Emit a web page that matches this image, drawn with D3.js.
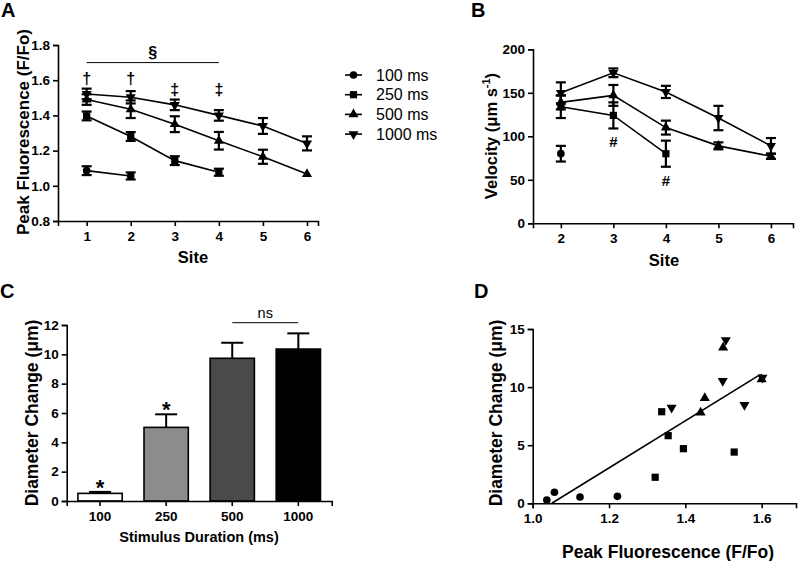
<!DOCTYPE html>
<html>
<head>
<meta charset="utf-8">
<script src="https://cdn.jsdelivr.net/npm/d3@7"></script>
<style>
  body { margin: 0; background: #fff; }
  svg { font-family: "Liberation Sans", Arial, sans-serif; }
</style>
</head>
<body>
<div id="chart"></div>
<script>
// ---- data ----
const durations = ["100 ms", "250 ms", "500 ms", "1000 ms"];
const symbolsBy = ["circle", "square", "up", "down"];

// panel A: peak fluorescence by site
const sitesA = [1, 2, 3, 4, 5, 6];
const fluo100 = [1.086, 1.056, null, null, null, null];
const fluo100err = [0.025, 0.02, null, null, null, null];
const fluo250 = [1.397, 1.28, 1.143, 1.077, null, null];
const fluo250err = [0.025, 0.025, 0.025, 0.02, null, null];
const fluo500 = [1.49, 1.435, 1.35, 1.256, 1.165, 1.067];
const fluo500err = [0.03, 0.05, 0.045, 0.05, 0.04, 0];
const fluo1000 = [1.522, 1.503, 1.46, 1.40, 1.34, 1.241];
const fluo1000err = [0.03, 0.035, 0.03, 0.03, 0.045, 0.04];
const annotA = [["†", 1], ["†", 2], ["‡", 3], ["‡", 4]];

// panel B: velocity by site
const sitesB = [2, 3, 4, 5, 6];
const vel100 = [80, null, null, null, null];
const vel100err = [9, null, null, null, null];
const vel250 = [134, 124, 80, null, null];
const vel250err = [13, 15, 15, null, null];
const vel500 = [139, 147, 110, 89, 77];
const vel500err = [8, 12, 8, 4, 3];
const vel1000 = [150, 173, 151, 121, 89];
const vel1000err = [12, 5, 7, 14, 9];
const annotB = [["#", 3, 124, 15], ["#", 4, 80, 15]];

// panel C: diameter change by stimulus duration
const stimLabels = ["100", "250", "500", "1000"];
const diamMean = [0.52, 5.02, 9.73, 10.36];
const diamErr = [0.1, 0.89, 1.06, 1.07];
const barFills = ["#ffffff", "#8c8c8c", "#4a4a4a", "#000000"];
const starBars = ["100", "250"];

// panel D: diameter change vs peak fluorescence
const scatX100 = [1.037, 1.057, 1.124, 1.222];
const scatY100 = [0.28, 0.95, 0.54, 0.6];
const scatX250 = [1.338, 1.355, 1.321, 1.395, 1.528];
const scatY250 = [7.88, 5.82, 2.24, 4.7, 4.41];
const scatX500 = [1.44, 1.451, 1.499, 1.6];
const scatY500 = [7.8, 9.06, 13.4, 10.67];
const scatX1000 = [1.364, 1.498, 1.506, 1.555, 1.602];
const scatY1000 = [8.23, 10.53, 14.05, 8.46, 10.81];
const fitX = [1.05, 1.597];
const fitY = [0, 11.1];

// ---- drawing ----
const W = 800, H = 561;
const svg = d3.select("#chart").append("svg")
    .attr("width", W).attr("height", H)
    .attr("viewBox", [0, 0, W, H]);

const symGen = {
  circle: d3.symbol(d3.symbolCircle, 46),
  square: d3.symbol(d3.symbolSquare, 52),
  up: d3.symbol(d3.symbolTriangle, 44),
  down: d3.symbol(d3.symbolTriangle, 44)
};
function marker(g, kind, x, y) {
  g.append("path")
    .attr("d", symGen[kind]())
    .attr("transform", `translate(${x},${y})` + (kind === "down" ? " rotate(180)" : ""))
    .attr("fill", "#000");
}

function styleAxis(g) {
  g.select(".domain").attr("stroke-width", 1.6);
  g.selectAll(".tick line").attr("stroke-width", 1.6);
  g.selectAll(".tick text")
    .attr("font-size", 13.5).attr("font-weight", "bold").attr("fill", "#000")
    .attr("font-family", "Liberation Sans, Arial, sans-serif");
}
function panelLabel(t, x, y) {
  svg.append("text").attr("x", x).attr("y", y).text(t)
    .attr("font-size", 20).attr("font-weight", "bold");
}
function yTitle(x, y, size, fn) {
  const t = svg.append("text")
      .attr("transform", `translate(${x},${y}) rotate(-90)`)
      .attr("text-anchor", "middle")
      .attr("font-size", size).attr("font-weight", "bold");
  fn(t);
}
function xTitle(x, y, txt, size) {
  svg.append("text").attr("x", x).attr("y", y)
    .attr("text-anchor", "middle")
    .attr("font-size", size).attr("font-weight", "bold").text(txt);
}

function errBar(g, x, y0, y1, cap) {
  g.append("line").attr("x1", x).attr("x2", x).attr("y1", y0).attr("y2", y1)
    .attr("stroke", "#000").attr("stroke-width", 2.2);
  [y0, y1].forEach(yy => g.append("line")
    .attr("x1", x - cap).attr("x2", x + cap).attr("y1", yy).attr("y2", yy)
    .attr("stroke", "#000").attr("stroke-width", 2.2));
}

// ===== Panel A =====
{
  const x = d3.scaleLinear([0.35, 6.25], [58, 318]);
  const y = d3.scaleLinear([0.8, 1.8], [221, 45]);
  const g = svg.append("g");
  g.append("g").attr("transform", "translate(0,221)")
    .call(d3.axisBottom(x).tickValues(sitesA).tickFormat(d3.format("d")).tickSize(5).tickPadding(5))
    .call(styleAxis);
  g.append("g").attr("transform", "translate(58,0)")
    .call(d3.axisLeft(y).tickValues(d3.range(0.8, 1.81, 0.2)).tickFormat(d3.format(".1f")).tickSize(5).tickPadding(3))
    .call(styleAxis);

  const series = [[fluo100, fluo100err], [fluo250, fluo250err], [fluo500, fluo500err], [fluo1000, fluo1000err]];
  const line = d3.line().defined(d => d[1] != null).x(d => x(d[0])).y(d => y(d[1]));
  series.forEach(([vals, errs], i) => {
    const pts = sitesA.map((s, j) => [s, vals[j], errs[j]]);
    g.append("path").attr("d", line(pts)).attr("fill", "none")
      .attr("stroke", "#000").attr("stroke-width", 1.6);
    pts.filter(p => p[1] != null).forEach(p => {
      if (p[2] > 0) errBar(g, x(p[0]), y(p[1] - p[2]), y(p[1] + p[2]), 5);
      marker(g, symbolsBy[i], x(p[0]), y(p[1]));
    });
  });

  // significance marks
  g.append("line").attr("x1", x(1)).attr("x2", x(4)).attr("y1", y(1.7)).attr("y2", y(1.7))
    .attr("stroke", "#000").attr("stroke-width", 1);
  g.append("text").attr("x", (x(1) + x(4)) / 2).attr("y", y(1.7) - 5)
    .attr("text-anchor", "middle").attr("font-size", 16).attr("font-weight", "bold").text("§");
  annotA.forEach(([s, site]) => {
    g.append("text").attr("x", x(site)).attr("y", s === "†" ? y(1.6) + 4 : y(1.56) + 8)
      .attr("text-anchor", "middle").attr("font-size", 16).attr("font-weight", "bold")
      .attr("fill", "#000").text(s);
  });

  yTitle(29, 132, 17, t => t.text("Peak Fluorescence (F/Fo)"));
  xTitle(193, 263, "Site", 16.5);
  panelLabel("A", 1, 17);

  // legend
  const lg = svg.append("g");
  durations.forEach((d, i) => {
    const yy = 75 + i * 19.7;
    lg.append("line").attr("x1", 345).attr("x2", 362).attr("y1", yy).attr("y2", yy)
      .attr("stroke", "#000").attr("stroke-width", 1.6);
    marker(lg, symbolsBy[i], 353.5, yy);
    lg.append("text").attr("x", 376).attr("y", yy + 5.5).attr("font-size", 16).text(d);
  });
}

// ===== Panel B =====
{
  const x = d3.scaleLinear([1.47, 6.42], [533, 793]);
  const y = d3.scaleLinear([0, 200], [223.3, 49.3]);
  const g = svg.append("g");
  g.append("g").attr("transform", "translate(0,223.3)")
    .call(d3.axisBottom(x).tickValues(sitesB).tickFormat(d3.format("d")).tickSize(5).tickPadding(5))
    .call(styleAxis);
  g.append("g").attr("transform", "translate(533,0)")
    .call(d3.axisLeft(y).tickValues(d3.range(0, 201, 50)).tickSize(5).tickPadding(3))
    .call(styleAxis);

  const series = [[vel100, vel100err], [vel250, vel250err], [vel500, vel500err], [vel1000, vel1000err]];
  const line = d3.line().defined(d => d[1] != null).x(d => x(d[0])).y(d => y(d[1]));
  series.forEach(([vals, errs], i) => {
    const pts = sitesB.map((s, j) => [s, vals[j], errs[j]]);
    g.append("path").attr("d", line(pts)).attr("fill", "none")
      .attr("stroke", "#000").attr("stroke-width", 1.6);
    pts.filter(p => p[1] != null).forEach(p => {
      if (p[2] > 0) errBar(g, x(p[0]), y(p[1] - p[2]), y(p[1] + p[2]), 5);
      marker(g, symbolsBy[i], x(p[0]), y(p[1]));
    });
  });
  annotB.forEach(([s, site, v, e]) => {
    g.append("text").attr("x", x(site)).attr("y", y(v - e) + 19)
      .attr("text-anchor", "middle").attr("font-size", 15).attr("font-weight", "bold").text(s);
  });

  yTitle(497, 136, 16.5, t => {
    t.append("tspan").text("Velocity (μm s");
    t.append("tspan").attr("dy", -7).attr("font-size", 11).text("-1");
    t.append("tspan").attr("dy", 7).text(")");
  });
  xTitle(664, 266, "Site", 16.5);
  panelLabel("B", 471, 17);
}

// ===== Panel C =====
{
  const x = d3.scaleBand(stimLabels, [66.7, 331.7]).paddingInner(0.33).paddingOuter(0.17);
  const y = d3.scaleLinear([0, 12], [501, 325]);
  const g = svg.append("g");

  stimLabels.forEach((s, i) => {
    const cx = x(s) + x.bandwidth() / 2;
    g.append("line").attr("x1", cx).attr("x2", cx)
      .attr("y1", y(diamMean[i])).attr("y2", y(diamMean[i] + diamErr[i]))
      .attr("stroke", "#000").attr("stroke-width", 2);
    g.append("line").attr("x1", cx - 11).attr("x2", cx + 11)
      .attr("y1", y(diamMean[i] + diamErr[i])).attr("y2", y(diamMean[i] + diamErr[i]))
      .attr("stroke", "#000").attr("stroke-width", 2);
    g.append("rect").attr("x", x(s)).attr("width", x.bandwidth())
      .attr("y", y(diamMean[i])).attr("height", y(0) - y(diamMean[i]))
      .attr("fill", barFills[i]).attr("stroke", "#000").attr("stroke-width", 1.6);
  });

  g.append("g").attr("transform", "translate(0,501)")
    .call(d3.axisBottom(x).tickSize(5).tickPadding(5))
    .call(styleAxis);
  g.append("g").attr("transform", "translate(66.7,0)")
    .call(d3.axisLeft(y).tickValues(d3.range(0, 13, 2)).tickSize(5).tickPadding(3))
    .call(styleAxis);

  starBars.forEach(s => {
    const i = stimLabels.indexOf(s);
    g.append("text").attr("x", x(s) + x.bandwidth() / 2)
      .attr("y", y(diamMean[i] + diamErr[i]) + 3)
      .attr("text-anchor", "middle").attr("font-size", 22).attr("font-weight", "bold").text("*");
  });
  const c500 = x("500") + x.bandwidth() / 2, c1000 = x("1000") + x.bandwidth() / 2;
  g.append("line").attr("x1", c500).attr("x2", c1000).attr("y1", 322.7).attr("y2", 322.7)
    .attr("stroke", "#000").attr("stroke-width", 1);
  g.append("text").attr("x", (c500 + c1000) / 2).attr("y", 318)
    .attr("text-anchor", "middle").attr("font-size", 14.5).text("ns");

  yTitle(38, 413, 17.5, t => t.text("Diameter Change (μm)"));
  xTitle(199, 542, "Stimulus Duration (ms)", 14.5);
  panelLabel("C", 0, 298);
}

// ===== Panel D =====
{
  const x = d3.scaleLinear([1.0, 1.69], [532.7, 796]);
  const y = d3.scaleLinear([0, 15], [503.3, 329]);
  const g = svg.append("g");
  g.append("g").attr("transform", "translate(0,503.3)")
    .call(d3.axisBottom(x).tickValues([1.0, 1.2, 1.4, 1.6]).tickFormat(d3.format(".1f")).tickSize(5).tickPadding(5))
    .call(styleAxis);
  g.append("g").attr("transform", "translate(532.7,0)")
    .call(d3.axisLeft(y).tickValues([0, 5, 10, 15]).tickSize(5).tickPadding(3))
    .call(styleAxis);

  g.append("line")
    .attr("x1", x(fitX[0])).attr("y1", y(fitY[0]))
    .attr("x2", x(fitX[1])).attr("y2", y(fitY[1]))
    .attr("stroke", "#000").attr("stroke-width", 1.6);

  const groups = [[scatX100, scatY100], [scatX250, scatY250], [scatX500, scatY500], [scatX1000, scatY1000]];
  groups.forEach(([xs, ys], i) => {
    xs.forEach((v, j) => marker(g, symbolsBy[i], x(v), y(ys[j])));
  });

  yTitle(502, 413, 17.5, t => t.text("Diameter Change (μm)"));
  xTitle(668, 558, "Peak Fluorescence (F/Fo)", 17.5);
  panelLabel("D", 474, 298);
}
</script>
</body>
</html>
